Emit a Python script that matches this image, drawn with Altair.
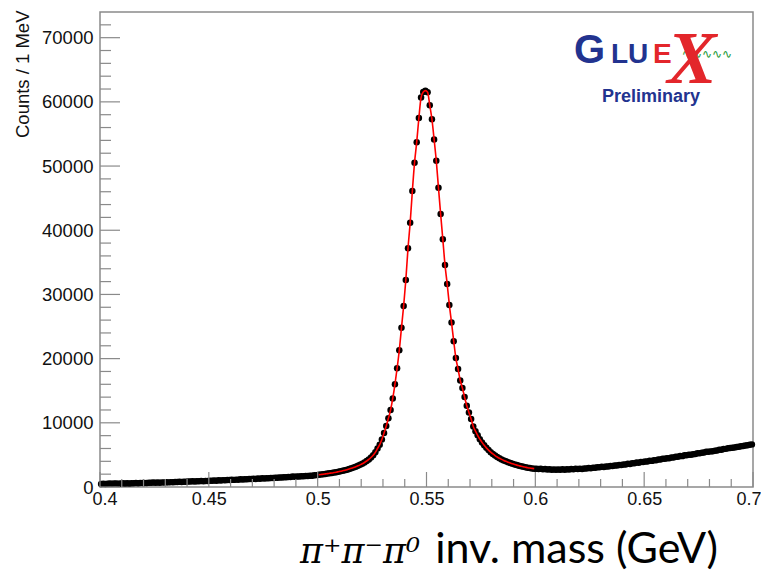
import altair as alt
import pandas as pd

# ---- data ----
bin_width = 0.001
first_bin_center = 0.4005
counts = [
    # 0.4005 - 0.4995
    480, 520, 470, 510, 540, 500, 530, 560, 520, 550,
    570, 540, 590, 560, 600, 580, 620, 590, 630, 610,
    640, 620, 660, 650, 690, 660, 700, 680, 720, 700,
    740, 720, 760, 750, 790, 770, 810, 790, 830, 820,
    850, 840, 880, 860, 900, 890, 930, 910, 950, 940,
    980, 960, 1010, 990, 1040, 1020, 1070, 1050, 1100, 1080,
    1120, 1110, 1150, 1140, 1190, 1170, 1220, 1200, 1250, 1240,
    1280, 1260, 1310, 1300, 1350, 1330, 1380, 1370, 1420, 1400,
    1450, 1440, 1490, 1480, 1530, 1520, 1570, 1560, 1620, 1610,
    1640, 1620, 1680, 1660, 1720, 1710, 1770, 1760, 1830, 1850,
    # 0.5005 - 0.5995
    1900, 1950, 1990, 2040, 2090, 2140, 2190, 2250, 2310, 2380,
    2450, 2530, 2610, 2700, 2800, 2910, 3030, 3160, 3300, 3450,
    3620, 3820, 4050, 4300, 4600, 4950, 5400, 6000, 6600, 7400,
    8400, 9500, 10700, 12000, 13800, 16000, 18500, 21300, 24800, 28200,
    32250, 37190, 41170, 46100, 50500, 53720, 57500, 60670, 61540, 61750,
    61500, 59470, 57290, 54140, 50810, 46610, 42520, 38580, 34590, 31630,
    28370, 25610, 22720, 20080, 18370, 16590, 15410, 14010, 12660, 11620,
    10590, 9440, 8700, 8050, 7450, 6950, 6500, 6100, 5750, 5430,
    5150, 4900, 4680, 4480, 4300, 4140, 4000, 3870, 3740, 3620,
    3510, 3410, 3320, 3230, 3150, 3080, 3010, 2950, 2900, 2860,
    # 0.6005 - 0.6995
    2840, 2790, 2830, 2760, 2790, 2720, 2760, 2700, 2740, 2690,
    2730, 2680, 2750, 2700, 2760, 2720, 2790, 2750, 2830, 2800,
    2860, 2820, 2900, 2880, 2960, 2930, 3010, 2990, 3080, 3060,
    3140, 3110, 3200, 3180, 3280, 3260, 3350, 3340, 3440, 3420,
    3520, 3500, 3610, 3590, 3700, 3690, 3800, 3780, 3890, 3880,
    3980, 3970, 4080, 4070, 4180, 4180, 4290, 4280, 4400, 4390,
    4490, 4490, 4600, 4590, 4710, 4710, 4820, 4810, 4930, 4930,
    5010, 5020, 5120, 5130, 5240, 5240, 5350, 5360, 5480, 5480,
    5550, 5580, 5660, 5690, 5790, 5810, 5910, 5940, 6050, 6060,
    6110, 6160, 6230, 6270, 6360, 6390, 6470, 6520, 6590, 6640,
]
mass = [round(first_bin_center + bin_width * i, 4) for i in range(len(counts))]

fit_range = [0.5, 0.6]

x_major = [0.4, 0.45, 0.5, 0.55, 0.6, 0.65, 0.7]
x_minor = [0.41, 0.42, 0.43, 0.44, 0.46, 0.47, 0.48, 0.49, 0.51, 0.52, 0.53, 0.54,
           0.56, 0.57, 0.58, 0.59, 0.61, 0.62, 0.63, 0.64, 0.66, 0.67, 0.68, 0.69]
y_major = [0, 10000, 20000, 30000, 40000, 50000, 60000, 70000]
y_minor = [2000, 4000, 6000, 8000, 12000, 14000, 16000, 18000, 22000, 24000, 26000, 28000,
           32000, 34000, 36000, 38000, 42000, 44000, 46000, 48000, 52000, 54000, 56000, 58000,
           62000, 64000, 66000, 68000, 72000]

x_domain = [0.4, 0.7]
y_domain = [0, 74000]

y_title = "Counts / 1 MeV"
x_title_math = "π⁺π⁻π⁰"
x_title_text = "inv. mass (GeV)"

# ---- chart ----
W, H = 653, 475
AX = "#8a8a8a"
FONT = "Liberation Sans"

df = pd.DataFrame({"mass": mass, "counts": counts})
fit_df = df[(df["mass"] > fit_range[0]) & (df["mass"] < fit_range[1])]

xs = alt.Scale(domain=x_domain, nice=False, zero=False)
ys = alt.Scale(domain=y_domain, nice=False, zero=False)

x_axis = alt.Axis(
    values=x_major, format=".2~f", ticks=False, domain=False, grid=False,
    labelFont=FONT, labelFontSize=18, labelColor="#111", labelPadding=3,
    labelFlush=1, labelFlushOffset=8, title=None)
y_axis = alt.Axis(
    values=y_major, format="d", ticks=False, domain=False, grid=False,
    labelFont=FONT, labelFontSize=18.5, labelColor="#111", labelPadding=7,
    labelFlush=False,
    title=y_title, titleFont=FONT, titleFontSize=18.5, titleFontWeight="normal",
    titleColor="#111", titleAngle=270, titleAlign="right", titleBaseline="middle",
    titleX=-78, titleY=-2)

points = alt.Chart(df).mark_circle(size=42, color="black", opacity=1).encode(
    x=alt.X("mass:Q", scale=xs, axis=x_axis),
    y=alt.Y("counts:Q", scale=ys, axis=y_axis),
)

fit = alt.Chart(fit_df).mark_line(color="#ff0000", strokeWidth=1.6, interpolate="monotone").encode(
    x=alt.X("mass:Q", scale=xs, axis=x_axis),
    y=alt.Y("counts:Q", scale=ys, axis=y_axis),
)

def yticks(vals, length):
    return alt.Chart(pd.DataFrame({"v": vals})).mark_rule(color=AX, strokeWidth=1.2).encode(
        y=alt.Y("v:Q", scale=ys, axis=y_axis), x=alt.value(0), x2=alt.value(length))

def xticks(vals, length):
    return alt.Chart(pd.DataFrame({"v": vals})).mark_rule(color=AX, strokeWidth=1.2).encode(
        x=alt.X("v:Q", scale=xs, axis=x_axis), y=alt.value(H), y2=alt.value(H - length))

def label(text, x, y, size, color, font=FONT, weight="bold", style="normal",
          align="left", baseline="alphabetic"):
    return alt.Chart(pd.DataFrame({"t": [text]})).mark_text(
        font=font, fontSize=size, fontWeight=weight, fontStyle=style, color=color,
        align=align, baseline=baseline).encode(
        text="t:N", x=alt.value(x), y=alt.value(y))

logo = [
    label("G", 474, 51, 40, "#22338f", weight=900),
    label("LU", 511, 51, 28, "#22338f", weight=900),
    label("E", 553, 51, 28, "#e3262b", weight=900),
    label("∿∿∿∿∿", 607, 42, 12, "#1f9a3a", font="DejaVu Sans", weight="normal",
          align="center", baseline="middle"),
    label("X", 592, 71, 74, "#e3262b", font="Liberation Serif", style="italic",
          align="center"),
    label("Preliminary", 551, 90, 18, "#22338f", align="center"),
]

xtitle = [
    label(x_title_math, 200, 551, 35, "#000", font="DejaVu Serif", weight="normal",
          style="italic"),
    label(x_title_text, 618, 551, 43, "#000", font="Lato", weight="normal", align="right"),
]

chart = alt.layer(
    points, yticks(y_minor, 11), yticks(y_major, 20), xticks(x_minor, 8), xticks(x_major, 15),
    fit, *logo, *xtitle,
).properties(
    width=W, height=H,
    autosize=alt.AutoSizeParams(type="none"),
    padding={"left": 92, "top": 4, "right": 8, "bottom": 84},
).configure_view(stroke=AX, strokeWidth=1.5).configure_axis(grid=False)

chart.save("out.html", embed_options={"renderer": "svg", "actions": False})
